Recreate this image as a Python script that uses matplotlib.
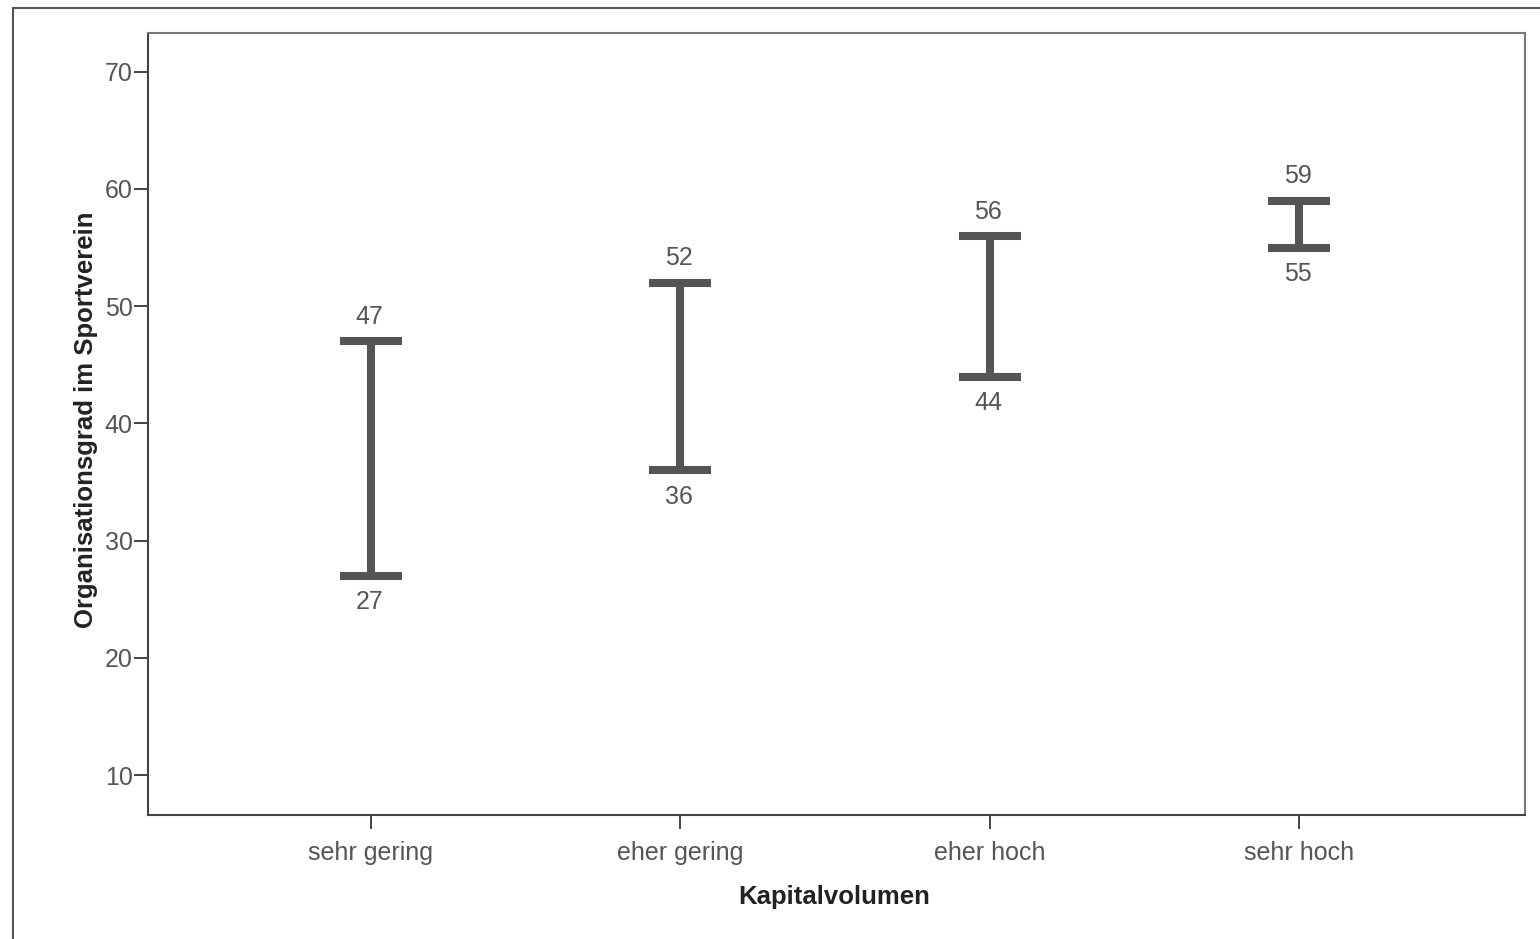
import numpy as np
import matplotlib.pyplot as plt
from matplotlib.lines import Line2D

plt.rcParams['font.family'] = ['Liberation Sans', 'DejaVu Sans']

# Kategorien und Intervallgrenzen
kategorien = ["sehr gering", "eher gering", "eher hoch", "sehr hoch"]
obere = [47, 52, 56, 59]
untere = [27, 36, 44, 55]

grau = "#555555"
x = np.arange(len(kategorien))

fig = plt.figure(figsize=(15.4, 9.39), dpi=100)
ax = fig.add_axes([148/1540, 1 - 815/939, 1377/1540, 782/939])

mitte = [(o + u) / 2 for o, u in zip(obere, untere)]
fehler = [[m - u for m, u in zip(mitte, untere)], [o - m for o, m in zip(obere, mitte)]]
ax.errorbar(x, mitte, yerr=fehler, fmt='none', ecolor=grau, elinewidth=5.8,
            capsize=22, capthick=5.8)

for xi, o, u in zip(x, obere, untere):
    ax.annotate(f"{o}", (xi, o), xytext=(-1, 17.5), textcoords='offset points',
                ha='center', va='center', fontsize=18, color=grau)
    ax.annotate(f"{u}", (xi, u), xytext=(-1, -19), textcoords='offset points',
                ha='center', va='center', fontsize=18, color=grau)

ax.set_xlim(-0.72, 3.73)
ax.set_ylim(6.6, 73.3)
ax.set_xticks(x)
ax.set_xticklabels(kategorien)
ax.set_yticks([10, 20, 30, 40, 50, 60, 70])

ax.tick_params(axis='both', labelsize=18, labelcolor=grau, color="#444444",
               length=10, width=1.4)
ax.tick_params(axis='y', pad=1)
ax.tick_params(axis='x', pad=9)

for seite in ['left', 'bottom']:
    ax.spines[seite].set_color("#444444")
    ax.spines[seite].set_linewidth(1.5)
for seite in ['top', 'right']:
    ax.spines[seite].set_color("#777777")
    ax.spines[seite].set_linewidth(1.5)

ax.set_xlabel("Kapitalvolumen", fontsize=18.5, fontweight='bold', color="#222222")
ax.set_ylabel("Organisationsgrad im Sportverein", fontsize=18.5, fontweight='bold',
              color="#222222")
ax.xaxis.set_label_coords(0.498, -0.089)
ax.yaxis.set_label_coords(-0.036, 0.505)

# äußerer Rahmen
fig.add_artist(Line2D([13/1540, 13/1540], [0, 1 - 8/939], color=grau, lw=1.5))
fig.add_artist(Line2D([13/1540, 1], [1 - 8/939, 1 - 8/939], color=grau, lw=1.5))

fig.savefig("out.png", dpi=100)
